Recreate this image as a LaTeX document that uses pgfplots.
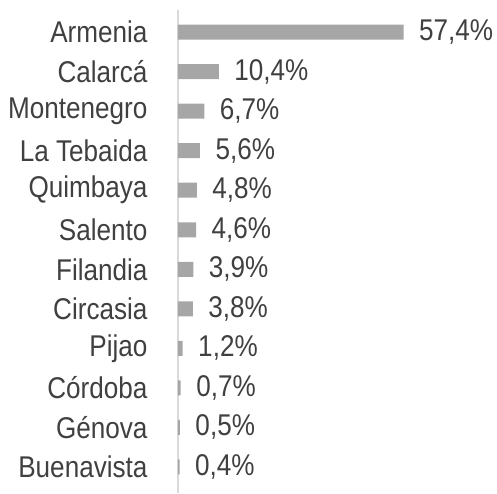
\documentclass[border=0pt]{standalone}
\usepackage{fontspec}
\setmainfont{Liberation Sans}[FakeStretch=0.87]
\usepackage{pgfplots}
\pgfplotsset{compat=1.18}
\definecolor{barg}{HTML}{A6A6A6}
\definecolor{axisg}{HTML}{D9D9D9}
\definecolor{txt}{HTML}{404040}
\begin{document}
\begin{tikzpicture}
\begin{axis}[
  at={(0,0)}, anchor=south west,
  xbar, scale only axis, width=319pt, height=483pt,
  xmin=0, xmax=81.2, ymin=-0.56, ymax=11.66, y dir=reverse,
  axis x line=none, axis y line*=left,
  y axis line style={draw=axisg, line width=1.5pt},
  major tick length=0pt,
  ytick={0,...,11},
  yticklabels={Armenia,Calarcá,Montenegro,La Tebaida,Quimbaya,Salento,Filandia,Circasia,Pijao,Córdoba,Génova,Buenavista},
  yticklabel style={font=\fontsize{30}{35}\selectfont, text=txt, anchor=east, xshift=-27pt},
  bar width=15pt, bar shift=0pt,
  point meta=x,
  nodes near coords={\pgfmathprintnumber[fixed,fixed zerofill,precision=1,use comma,assume math mode=true]{\pgfplotspointmeta}\%},
  nodes near coords style={font=\fontsize{30}{35}\selectfont, text=txt, anchor=west, xshift=12pt},
  clip=false,
]
\addplot[fill=barg, draw=none] coordinates {
(57.4,0) (10.4,1) (6.7,2) (5.6,3) (4.8,4) (4.6,5) (3.9,6) (3.8,7) (1.2,8) (0.7,9) (0.5,10) (0.4,11)};
\end{axis}
\path (-178pt,0pt) rectangle (319pt,493pt);
\end{tikzpicture}
\end{document}
